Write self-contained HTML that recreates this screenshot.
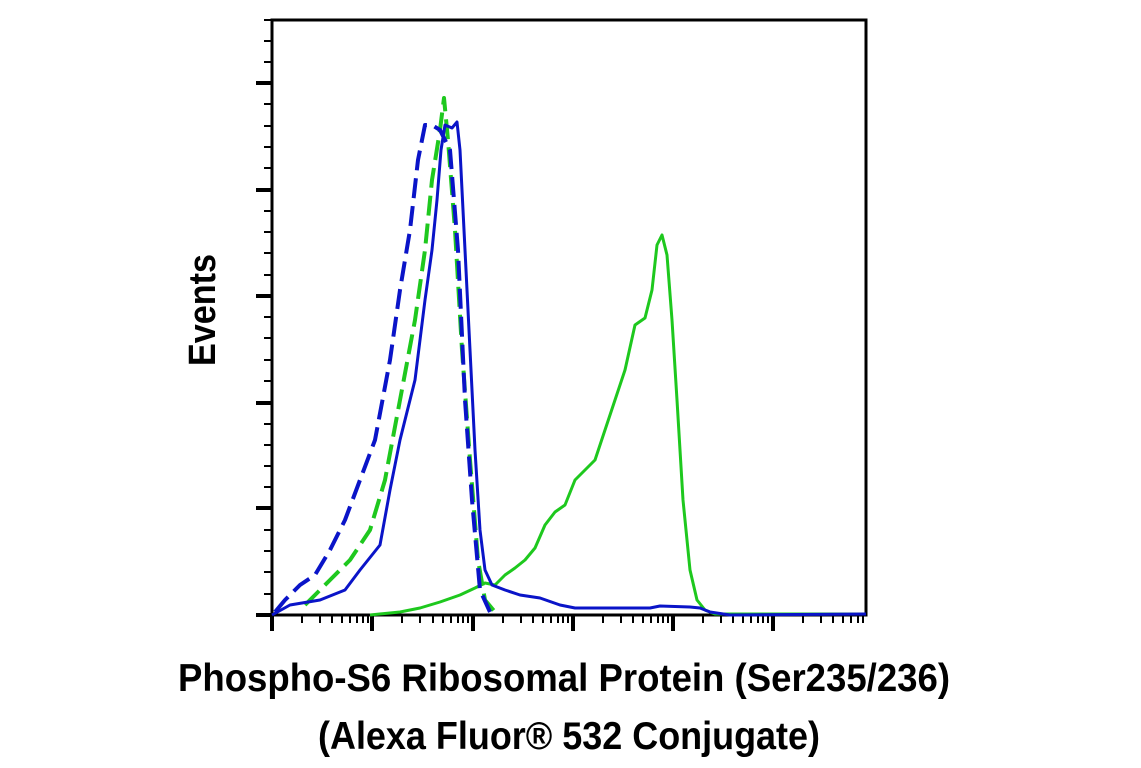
<!DOCTYPE html><html><head><style>body{margin:0;background:#fff}svg{display:block}</style></head><body>
<svg width="1141" height="768" xmlns="http://www.w3.org/2000/svg" font-family="Liberation Sans, sans-serif" font-weight="bold">
<g stroke="#000" stroke-width="3">
<rect x="272" y="20" width="594" height="595" fill="none"/>
<path d="M256 83h16M256 190h16M256 296h16M256 403h16M256 508h16M256 615h16" stroke-width="4"/>
<path stroke-width="2" d="M264 20h8M264 41h8M264 62h8M264 104h8M264 126h8M264 147h8M264 168h8M264 211h8M264 232h8M264 253h8M264 275h8M264 317h8M264 338h8M264 360h8M264 381h8M264 424h8M264 445h8M264 466h8M264 487h8M264 530h8M264 551h8M264 572h8M264 594h8"/>
<path stroke-width="4" d="M272 615v16M372 615v16M473 615v16M573 615v16M673 615v16M773 615v16"/>
<path stroke-width="2" d="M302 615v8M320 615v8M332 615v8M342 615v8M350 615v8M357 615v8M363 615v8M368 615v8M402 615v8M420 615v8M433 615v8M443 615v8M451 615v8M458 615v8M463 615v8M468 615v8M503 615v8M521 615v8M533 615v8M543 615v8M551 615v8M558 615v8M563 615v8M568 615v8M603 615v8M621 615v8M633 615v8M643 615v8M651 615v8M658 615v8M663 615v8M668 615v8M703 615v8M721 615v8M733 615v8M743 615v8M751 615v8M758 615v8M763 615v8M768 615v8M803 615v8M821 615v8M833 615v8M843 615v8M851 615v8M858 615v8M863 615v8"/>
</g>
<g fill="none" stroke-width="3" stroke-linejoin="round">
<polyline stroke="#1ec81e" points="370,615 400,612 420,608 440,602 460,595 475,588 485,583 495,585 505,575 515,568 525,560 535,548 545,525 555,512 565,505 575,480 585,470 595,460 605,430 615,400 625,370 635,325 645,318 652,290 657,245 662,235 667,255 672,320 677,400 683,500 690,570 697,600 705,610 715,614 866,614"/>
<polyline stroke="#1ec81e" stroke-dasharray="20 8" stroke-width="4" points="305,605 330,580 350,560 370,530 385,480 400,400 415,320 425,250 432,180 440,130 444,98 448,140 455,230 462,350 470,460 478,560 485,600 495,612"/>
<polyline stroke="#0a14c8" stroke-dasharray="20 8" stroke-width="4" points="275,612 285,600 300,585 315,575 330,550 345,520 360,480 375,440 390,360 400,290 410,230 418,160 425,125 432,125 440,130 450,150 458,250 465,400 472,500 480,590 490,612"/>
<polyline stroke="#0a14c8" points="272,615 290,605 320,600 345,590 360,570 380,545 390,490 400,440 415,380 425,300 432,250 437,200 441,150 445,125 452,128 457,122 460,150 465,250 470,350 475,450 480,530 485,570 492,585 505,590 520,595 540,598 560,605 575,608 650,608 660,606 690,607 700,608 710,612 730,615 866,614"/>
</g>
<text transform="translate(215,310) rotate(-90)" text-anchor="middle" font-size="38" textLength="112" lengthAdjust="spacingAndGlyphs">Events</text>
<text x="178" y="691" font-size="39" textLength="772" lengthAdjust="spacingAndGlyphs">Phospho-S6 Ribosomal Protein (Ser235/236)</text>
<text x="318" y="749" font-size="39" textLength="502" lengthAdjust="spacingAndGlyphs">(Alexa Fluor® 532 Conjugate)</text>
</svg></body></html>
